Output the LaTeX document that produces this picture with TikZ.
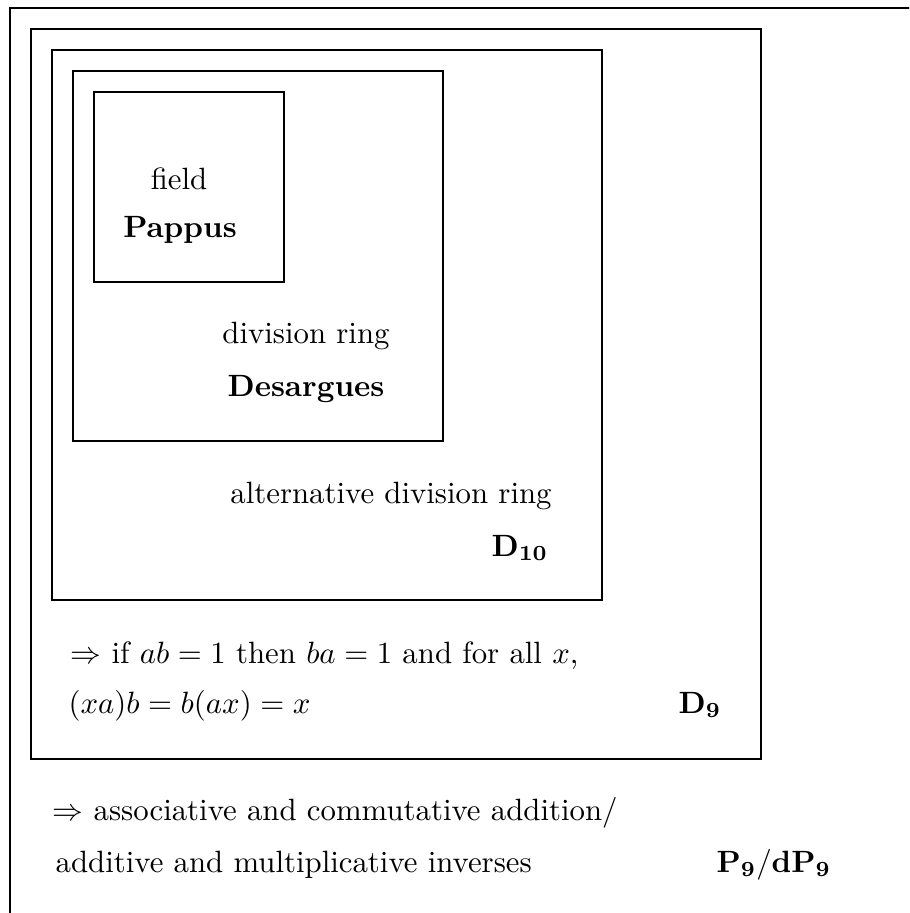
\documentclass[tikz,border=0pt]{standalone}
\usepackage{amsmath}
\begin{document}
\begin{tikzpicture}[x=0.3247pt,y=-0.3247pt,line width=0.4pt,
    lbl/.style={anchor=base,inner sep=0pt},
    lblw/.style={anchor=base west,inner sep=0pt}]
    \useasboundingbox (0,0) rectangle (909,913);
    \clip (0,0) rectangle (909,913);
    % nested boxes, the outermost one runs off the page
    \foreach \i in {0,...,4} {
            \draw (10+21*\i,8+21*\i) rectangle ++(910-180*\i,910-180*\i);
    }
    % innermost box
    \node[lbl] (field)  at (179,189) {field};
    \node[lbl] (pappus) at (180,237) {\textbf{Pappus}};
    % second box
    \node[lbl] (divring)   at (306,343) {division ring};
    \node[lbl] (desargues) at (306,396) {\textbf{Desargues}};
    % third box
    \node[lbl]  (altring) at (391,503) {alternative division ring};
    \node[lblw] (dten)    at (491,556) {$\mathbf{D_{10}}$};
    % fourth box
    \node[lblw] (inverse) at (70,663) {$\Rightarrow$ if $ab=1$ then $ba=1$ and for all $x$,};
    \node[lblw] (moufang) at (68,713) {$(xa)b=b(ax)=x$};
    \node[lblw] (dnine)   at (678,713) {$\mathbf{D_9}$};
    % outermost box
    \node[lblw] (assoc)   at (52,820) {$\Rightarrow$ associative and commutative addition/};
    \node[lblw] (addinv)  at (55,872) {additive and multiplicative inverses};
    \node[lblw] (pnine)   at (716,872) {$\mathbf{P_9/dP_9}$};
\end{tikzpicture}
\end{document}
